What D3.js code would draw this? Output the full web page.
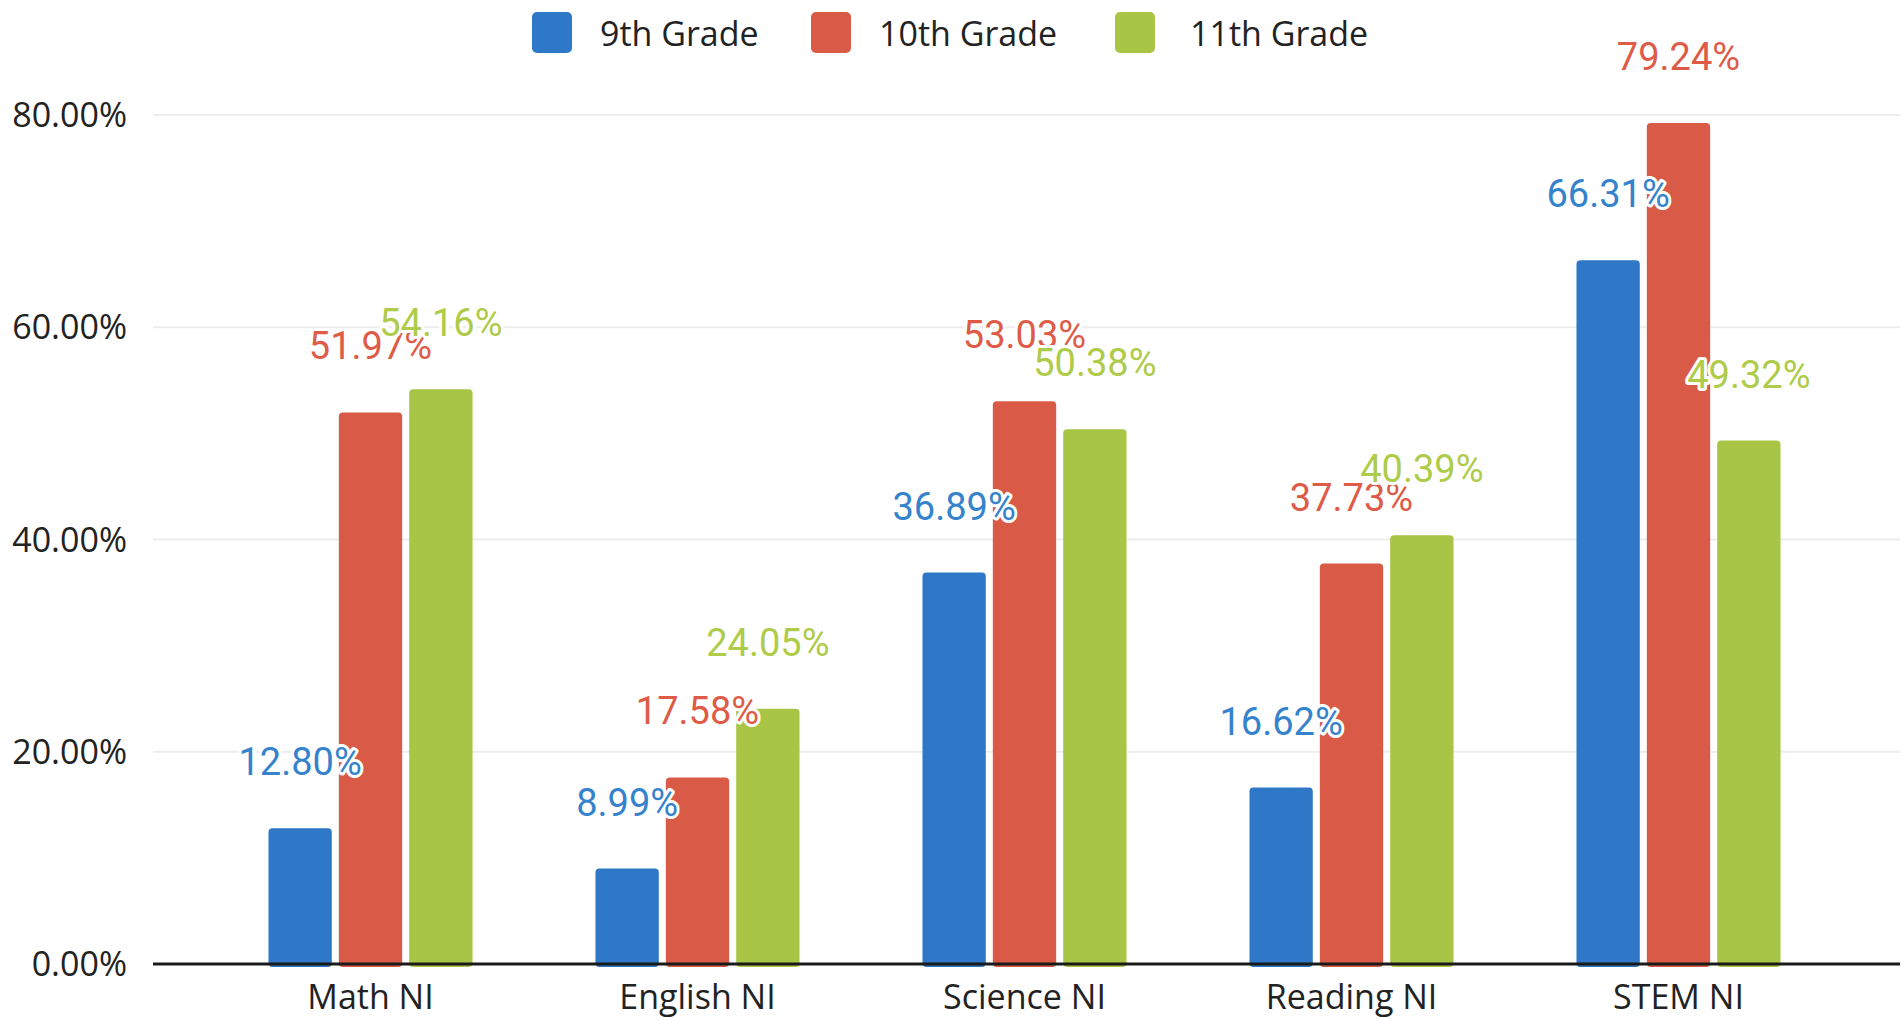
<!DOCTYPE html>
<html>
<head>
<meta charset="utf-8">
<script src="https://cdn.jsdelivr.net/npm/d3@7"></script>
<style>
	html, body { margin: 0; padding: 0; background: #fff; }
	svg { display: block; }
</style>
</head>
<body>
<svg id="chart" width="1904" height="1020"></svg>
<script>
	'use strict';

	// данные графика
	var categories = ['Math NI', 'English NI', 'Science NI', 'Reading NI', 'STEM NI'];
	var series = ['9th Grade', '10th Grade', '11th Grade'];
	var grade9 = [12.80, 8.99, 36.89, 16.62, 66.31];
	var grade10 = [51.97, 17.58, 53.03, 37.73, 79.24];
	var grade11 = [54.16, 24.05, 50.38, 40.39, 49.32];
	var yTicks = [0, 20, 40, 60, 80];

	var values = [grade9, grade10, grade11];
	var colors = ['#2f78c8', '#d95a47', '#a8c545'];
	var labelColors = ['#3583cc', '#de5b48', '#aecb4a'];

	var svg = d3.select('#chart'),
		plotLeft = 153, // левый край оси
		plotRight = 1900; // правый край оси

	var y = d3.scaleLinear().domain([0, 80]).range([964, 115]);

	var x = d3.scaleBand()
		.domain(categories)
		.range([207, 1842])
		.paddingInner(0.376)
		.paddingOuter(0.188);

	var xs = d3.scaleBand()
		.domain(d3.range(series.length))
		.range([0, x.bandwidth()])
		.paddingInner(0.1);

	// сетка
	svg.append('g')
		.selectAll('line')
		.data(yTicks.filter(function (t) { return t > 0; }))
		.enter()
		.append('line')
		.attr('x1', plotLeft)
		.attr('x2', plotRight)
		.attr('y1', function (t) { return y(t); })
		.attr('y2', function (t) { return y(t); })
		.attr('stroke', '#ededed')
		.attr('stroke-width', 2);

	// подписи оси Y
	svg.append('g')
		.selectAll('text')
		.data(yTicks)
		.enter()
		.append('text')
		.attr('x', 127)
		.attr('y', function (t) { return y(t) + 12; })
		.attr('text-anchor', 'end')
		.attr('font-family', 'Open Sans')
		.attr('font-size', 34)
		.attr('fill', '#222')
		.text(function (t) { return d3.format('.2f')(t) + '%'; });

	// собираем массив столбцов
	var bars = [];
	series.forEach(function (s, si) {
		categories.forEach(function (c, ci) {
			bars.push({ cat: c, si: si, v: values[si][ci] });
		});
	});

	svg.append('g')
		.selectAll('rect')
		.data(bars)
		.enter()
		.append('rect')
		.attr('x', function (d) { return x(d.cat) + xs(d.si); })
		.attr('y', function (d) { return y(d.v); })
		.attr('width', xs.bandwidth())
		.attr('height', function (d) { return y(0) - y(d.v) + 3; })
		.attr('rx', 4)
		.attr('fill', function (d) { return colors[d.si]; });

	// ось X
	svg.append('line')
		.attr('x1', plotLeft)
		.attr('x2', plotRight)
		.attr('y1', y(0))
		.attr('y2', y(0))
		.attr('stroke', '#1a1a1a')
		.attr('stroke-width', 3);

	svg.append('g')
		.selectAll('text')
		.data(categories)
		.enter()
		.append('text')
		.attr('x', function (c) { return x(c) + x.bandwidth() / 2; })
		.attr('y', 1009)
		.attr('text-anchor', 'middle')
		.attr('font-family', 'Open Sans')
		.attr('font-size', 34)
		.attr('fill', '#222')
		.text(function (c) { return c; });

	// подписи значений с белым ореолом
	svg.append('g')
		.selectAll('text')
		.data(bars)
		.enter()
		.append('text')
		.attr('x', function (d) { return x(d.cat) + xs(d.si) + xs.bandwidth() / 2; })
		.attr('y', function (d) { return y(d.v) - 53; })
		.attr('text-anchor', 'middle')
		.attr('font-family', 'Roboto')
		.attr('font-size', 38)
		.attr('fill', function (d) { return labelColors[d.si]; })
		.attr('stroke', '#fff')
		.attr('stroke-width', 6)
		.attr('stroke-linejoin', 'round')
		.attr('paint-order', 'stroke')
		.text(function (d) { return d3.format('.2f')(d.v) + '%'; });

	// легенда
	var legendX = [532, 811, 1115];
	var legend = svg.append('g')
		.selectAll('g')
		.data(series)
		.enter()
		.append('g')
		.attr('transform', function (s, i) { return 'translate(' + legendX[i] + ',12)'; });

	legend.append('rect')
		.attr('width', 40)
		.attr('height', 41)
		.attr('rx', 5)
		.attr('fill', function (s, i) { return colors[i]; });

	legend.append('text')
		.attr('x', function (s, i) { return i === 2 ? 75 : 68; })
		.attr('y', 34)
		.attr('font-family', 'Open Sans')
		.attr('font-size', 34)
		.attr('fill', '#222')
		.text(function (s) { return s; });
</script>
</body>
</html>
